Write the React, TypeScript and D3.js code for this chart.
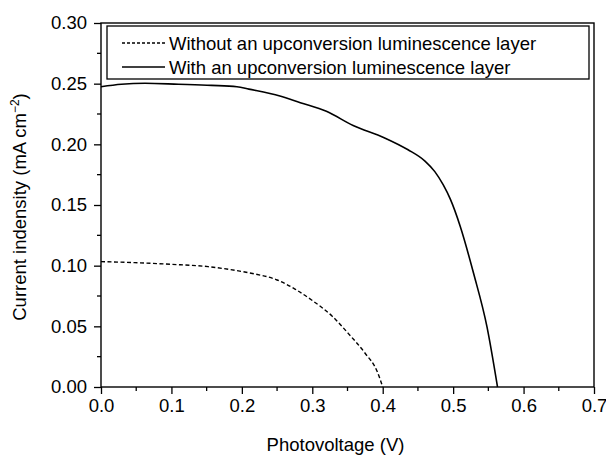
import React, { useEffect, useRef } from 'react';
import * as d3 from 'd3';

// photovoltage (V) / current density (mA cm^-2)
const withoutV = [0, 0.048, 0.1, 0.152, 0.181, 0.209, 0.25, 0.276, 0.299, 0.328, 0.351, 0.375, 0.392, 0.4];
const withoutI = [0.1033, 0.1025, 0.1011, 0.0992, 0.097, 0.0942, 0.0882, 0.0805, 0.0717, 0.0585, 0.0442, 0.0278, 0.013, 0];

const withV = [0, 0.029, 0.0625, 0.11, 0.157, 0.193, 0.21, 0.254, 0.283, 0.32, 0.358, 0.402, 0.436, 0.46, 0.474, 0.486, 0.496, 0.51, 0.529, 0.548, 0.563];
const withI = [0.2475, 0.2495, 0.2503, 0.2495, 0.2486, 0.2475, 0.2455, 0.2398, 0.2343, 0.2272, 0.2155, 0.2055, 0.1955, 0.1862, 0.1775, 0.1665, 0.1548, 0.1325, 0.0937, 0.0497, 0];

const xTicks = [0, 0.1, 0.2, 0.3, 0.4, 0.5, 0.6, 0.7];
const yTicks = [0, 0.05, 0.1, 0.15, 0.2, 0.25, 0.3];
const legendLabels = [
  'Without an upconversion luminescence layer',
  'With an upconversion luminescence layer',
];

const App = () => {
  const ref = useRef<SVGSVGElement>(null);

  useEffect(() => {
    const width = 606;
    const height = 456;
    const left = 101, right = 594, top = 23, bottom = 387;
    const font = 'Arial, "Liberation Sans", sans-serif';
    const fs = 18.5;

    const svg = d3.select(ref.current)
      .attr('width', width)
      .attr('height', height);
    svg.selectAll('*').remove();

    const x = d3.scaleLinear().domain([0, 0.7]).range([left, right]);
    const y = d3.scaleLinear().domain([0, 0.3]).range([bottom, top]);

    // frame
    svg.append('rect')
      .attr('x', left).attr('y', top)
      .attr('width', right - left).attr('height', bottom - top)
      .attr('fill', 'none').attr('stroke', '#000').attr('stroke-width', 1.4);

    // x axis
    const xAxis = d3.axisBottom(x)
      .tickValues(xTicks)
      .tickSize(7)
      .tickPadding(5)
      .tickFormat(d3.format('.1f'));
    const gx = svg.append('g').attr('transform', `translate(0,${bottom})`).call(xAxis);
    gx.select('.domain').remove();
    gx.selectAll('line').attr('stroke-width', 1.3);
    gx.selectAll('text').attr('font-size', fs).attr('font-family', font).attr('fill', '#000');

    const xMinor = d3.range(0.05, 0.7, 0.1);
    svg.append('g').selectAll('line').data(xMinor).enter().append('line')
      .attr('x1', d => x(d)).attr('x2', d => x(d))
      .attr('y1', bottom).attr('y2', bottom + 4)
      .attr('stroke', '#000').attr('stroke-width', 1.3);

    // y axis
    const yAxis = d3.axisLeft(y)
      .tickValues(yTicks)
      .tickSize(7)
      .tickPadding(7)
      .tickFormat(d3.format('.2f'));
    const gy = svg.append('g').attr('transform', `translate(${left},0)`).call(yAxis);
    gy.select('.domain').remove();
    gy.selectAll('line').attr('stroke-width', 1.3);
    gy.selectAll('text').attr('font-size', fs).attr('font-family', font).attr('fill', '#000');

    const yMinor = d3.range(0.025, 0.3, 0.05);
    svg.append('g').selectAll('line').data(yMinor).enter().append('line')
      .attr('x1', left - 4).attr('x2', left)
      .attr('y1', d => y(d)).attr('y2', d => y(d))
      .attr('stroke', '#000').attr('stroke-width', 1.3);

    // curves
    const line = d3.line<[number, number]>()
      .x(d => x(d[0]))
      .y(d => y(d[1]))
      .curve(d3.curveMonotoneX);

    const withoutPts = withoutV.map((v, i) => [v, withoutI[i]] as [number, number]);
    const withPts = withV.map((v, i) => [v, withI[i]] as [number, number]);

    svg.append('path')
      .attr('d', line(withoutPts))
      .attr('fill', 'none').attr('stroke', '#000')
      .attr('stroke-width', 1.4).attr('stroke-dasharray', '4,2.5');

    svg.append('path')
      .attr('d', line(withPts))
      .attr('fill', 'none').attr('stroke', '#000')
      .attr('stroke-width', 1.6);

    // legend
    const lg = svg.append('g');
    lg.append('rect')
      .attr('x', 107).attr('y', 26)
      .attr('width', 482).attr('height', 53)
      .attr('fill', '#fff').attr('stroke', '#000').attr('stroke-width', 1.3);
    legendLabels.forEach((label, i) => {
      const cy = 43 + i * 24;
      lg.append('line')
        .attr('x1', 122).attr('x2', 165)
        .attr('y1', cy).attr('y2', cy)
        .attr('stroke', '#000').attr('stroke-width', 1.3)
        .attr('stroke-dasharray', i === 0 ? '3,2' : null);
      lg.append('text')
        .attr('x', 169).attr('y', cy + 6.5)
        .attr('font-size', fs).attr('font-family', font)
        .text(label);
    });

    // axis titles
    svg.append('text')
      .attr('x', (left + right) / 2 - 12).attr('y', 451)
      .attr('text-anchor', 'middle')
      .attr('font-size', fs).attr('font-family', font)
      .text('Photovoltage (V)');

    const yt = svg.append('text')
      .attr('transform', `translate(26,${(top + bottom) / 2 + 2}) rotate(-90)`)
      .attr('text-anchor', 'middle')
      .attr('font-size', fs).attr('font-family', font);
    yt.append('tspan').text('Current indensity (mA cm');
    yt.append('tspan').attr('font-size', 12).attr('dy', -7).text('\u22122');
    yt.append('tspan').attr('dy', 7).text(')');
  }, []);

  return (
    <svg ref={ref} style={{ position: 'absolute', left: 0, top: 0 }}></svg>
  );
};

export default App;
